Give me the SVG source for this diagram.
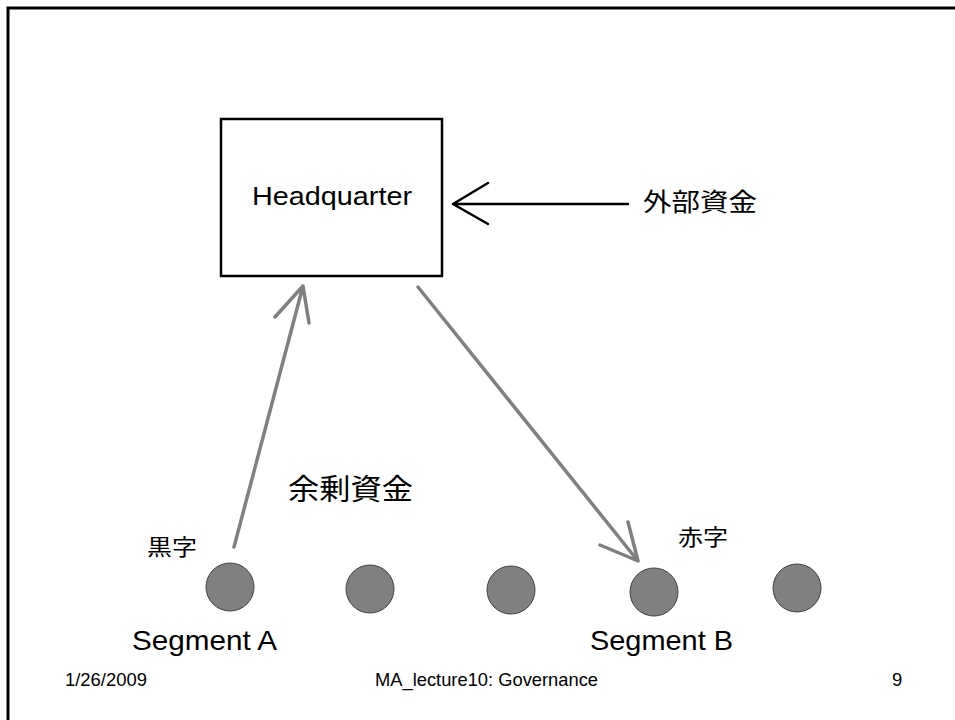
<svg xmlns="http://www.w3.org/2000/svg" width="955" height="720" viewBox="0 0 955 720">
  <style>
    .lat { font-family: "Liberation Sans", Arial, sans-serif; fill: #000; }
    .jp { font-family: "Noto Sans CJK JP", "Noto Sans", sans-serif; fill: #000; }
    .seg { fill: #808080; stroke: #404040; stroke-width: 1; }
    .gray { stroke: #808080; stroke-width: 3.5; fill: none; stroke-linecap: round; stroke-linejoin: round; }
    .blk { stroke: #000; stroke-width: 2.5; fill: none; stroke-linecap: round; stroke-linejoin: round; }
  </style>

  <rect x="0" y="0" width="955" height="720" fill="#fff"/>
  <!-- slide frame -->
  <path d="M8 724 L8 8 L960 8" fill="none" stroke="#000" stroke-width="3"/>

  <g id="headquarter">
    <rect x="221" y="119" width="221" height="157" fill="#fff" stroke="#000" stroke-width="2.5"/>
    <text class="lat" x="252" y="205" font-size="25.5" textLength="160" lengthAdjust="spacingAndGlyphs">Headquarter</text>
  </g>

  <g id="external-funds">
    <text class="jp" x="643" y="211" font-size="25" textLength="114" lengthAdjust="spacingAndGlyphs">外部資金</text>
  </g>

  <g id="surplus-label">
    <text class="jp" x="288" y="500" font-size="29" textLength="125" lengthAdjust="spacingAndGlyphs">余剰資金</text>
  </g>

  <g id="segment-a">
    <circle class="seg" cx="230" cy="587" r="24"/>
    <text class="jp" x="147" y="555" font-size="22" textLength="50" lengthAdjust="spacingAndGlyphs">黒字</text>
    <text class="lat" x="132" y="650" font-size="28" textLength="145" lengthAdjust="spacingAndGlyphs">Segment A</text>
  </g>
  <g id="segment-2"><circle class="seg" cx="370" cy="589" r="24"/></g>
  <g id="segment-3"><circle class="seg" cx="511" cy="590" r="24"/></g>
  <g id="segment-b">
    <circle class="seg" cx="654" cy="592" r="24"/>
    <text class="jp" x="678" y="545" font-size="22" textLength="50" lengthAdjust="spacingAndGlyphs">赤字</text>
    <text class="lat" x="590" y="650" font-size="28" textLength="143" lengthAdjust="spacingAndGlyphs">Segment B</text>
  </g>
  <g id="segment-5"><circle class="seg" cx="797" cy="588" r="24"/></g>

  <g id="connectors">
    <!-- external funds into headquarter -->
    <path class="blk" d="M628 204 L453 204 M488 183 L453 204 L488 224"/>
    <!-- surplus from Segment A up to headquarter -->
    <path class="gray" d="M234 547 L303 286 M275 317 L303 286 L309 323"/>
    <!-- funds from headquarter down to Segment B -->
    <path class="gray" d="M418 287 L638 561 M600 545 L638 561 L628 522"/>
  </g>

  <g id="footer">
    <text class="lat" x="65" y="686" font-size="18.5" textLength="82" lengthAdjust="spacingAndGlyphs">1/26/2009</text>
    <text class="lat" x="375" y="686" font-size="18.5" textLength="223" lengthAdjust="spacingAndGlyphs">MA_lecture10: Governance</text>
    <text class="lat" x="892" y="686" font-size="18.5">9</text>
  </g>
</svg>
